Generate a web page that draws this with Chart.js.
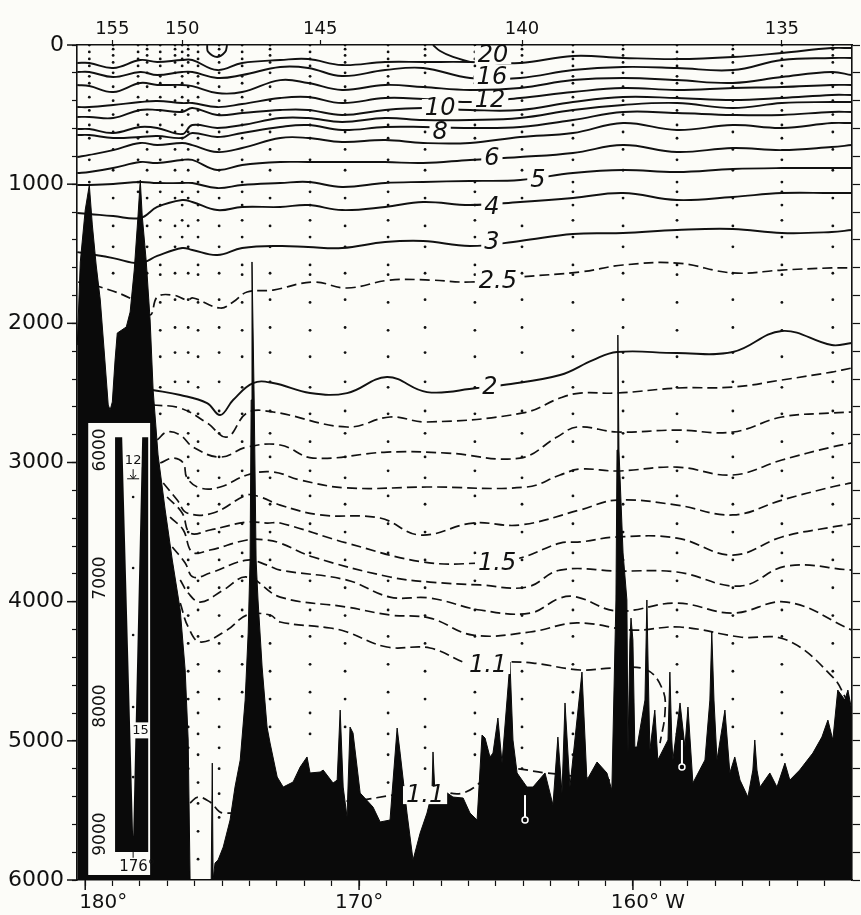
<!DOCTYPE html>
<html>
<head>
<meta charset="utf-8">
<script src="https://cdn.jsdelivr.net/npm/chart.js@4.4.0/dist/chart.umd.min.js"></script>
<style>
  html, body { margin: 0; padding: 0; background: #fcfcf8; }
  canvas { display: block; }
</style>
</head>
<body>
<canvas id="section" width="861" height="915"></canvas>
<script>
// longitude grid (deg, 180 -> 152 W) for the upper isotherms
var gridLon = [180.29, 179.85, 178.98, 177.99, 177.37, 176.46, 176.09, 175.18, 174.27, 172.88, 171.86, 170.62, 169.05, 167.66, 165.95, 164.12, 162.19, 160.36, 158.39, 156.35, 154.56, 152.74, 152.01];

// depth (m) of each upper isotherm on that grid
var t18 = [129,129,165,108,122,108,108,180,129,108,101,144,122,122,122,129,79,93,101,86,57,22,22];
var t16 = [194,194,230,194,216,194,194,237,216,158,165,223,180,165,237,237,180,158,165,180,108,93,93];
var t14 = [287,295,338,273,287,287,295,345,338,252,273,323,287,302,323,309,252,237,252,273,230,194,216];
var t12 = [446,446,431,410,402,417,417,446,424,381,374,417,381,388,410,381,338,309,323,309,302,287,287];
var t10 = [517,517,525,467,467,481,453,503,489,467,467,503,467,453,467,467,410,374,381,395,381,359,359];
var t9  = [604,604,632,589,596,640,575,596,575,525,525,553,525,539,539,525,467,431,417,453,417,410,410];
var t8  = [647,647,668,661,654,668,632,661,632,589,575,611,589,589,596,589,539,481,489,503,503,481,481];
var t7  = [805,790,755,704,719,704,719,769,740,668,668,697,683,704,704,661,632,561,611,575,596,561,561];
var t6  = [920,913,884,841,848,826,826,898,862,841,841,841,841,848,826,805,776,719,769,740,755,733,719];
var t5  = [1006,1006,999,984,992,992,992,1028,1006,992,984,1020,992,984,977,970,920,898,913,891,884,884,884];
var t4  = [1207,1214,1229,1243,1164,1114,1128,1186,1164,1164,1150,1186,1164,1128,1150,1128,1099,1064,1114,1092,1064,1064,1064];
var t3  = [1488,1502,1531,1567,1516,1459,1473,1509,1459,1444,1452,1459,1416,1408,1444,1408,1358,1351,1329,1322,1351,1344,1329];

// 20 deg outcrop and the small surface loop near 175
var loop20Lon = [167.30, 167.04, 166.57, 165.95];
var loop20Depth = [0, 43, 86, 122];
var loopSLon = [175.55, 175.51, 175.18, 174.89, 174.82];
var loopSDepth = [0, 50, 86, 50, 0];

// deep isotherms, each with its own longitudes
var d25Lon = [180.26,179.45,178.25,177.63,177.37,176.79,176.28,176.06,175.07,174.60,174.09,173.14,171.68,170.44,168.87,167.41,165.95,164.12,161.93,160.36,158.39,156.35,154.56,152.74,152.01];
var d25Depth = [1703,1739,1832,1940,1811,1797,1832,1818,1890,1847,1775,1761,1703,1746,1689,1689,1703,1667,1631,1581,1567,1638,1617,1602,1602];
var s2Lon = [177.55,176.53,175.55,175.07,174.60,173.87,173.14,171.79,170.44,168.98,167.52,165.69,164.74,162.66,161.46,160.58,158.39,156.35,154.56,152.74,152.01];
var s2Depth = [2479,2515,2573,2659,2551,2429,2429,2501,2501,2386,2494,2465,2443,2371,2264,2206,2213,2206,2055,2156,2141];
var d19Lon = [177.55,176.53,175.55,174.82,174.09,173.14,170.44,168.87,167.52,164.01,162.66,161.93,160.58,158.39,156.35,154.56,152.74,152.01];
var d19Depth = [2587,2609,2716,2817,2644,2637,2745,2673,2709,2644,2537,2501,2501,2465,2458,2407,2350,2321];
var d18Lon = [177.37,177.01,176.53,176.06,175.07,174.09,172.88,171.68,168.98,166.79,164.12,162.77,162.04,160.58,158.39,156.35,154.56,152.74,152.01];
var d18Depth = [2838,2781,2803,2889,2961,2889,2874,2968,2925,2932,2968,2817,2745,2781,2767,2781,2673,2644,2637];
var d17Lon = [177.26,176.79,176.42,176.28,175.80,175.07,174.09,173.14,172.15,170.44,167.52,163.87,162.66,161.93,160.58,158.39,156.35,154.56,152.74,152.01];
var d17Depth = [3004,2968,3004,3111,3183,3176,3090,3068,3126,3183,3176,3176,3090,3047,3061,3033,3090,2982,2889,2860];
var d16Lon = [177.15,176.64,176.28,175.33,174.09,173.61,172.88,171.42,169.23,167.77,165.84,164.12,161.93,160.58,158.39,156.35,154.56,152.74,152.01];
var d16Depth = [3147,3270,3363,3363,3234,3248,3306,3377,3399,3521,3435,3449,3341,3270,3306,3377,3270,3176,3147];
var d15Lon = [177.01,176.46,176.17,175.44,174.09,173.36,172.88,170.44,167.66,165.58,164.12,162.66,161.93,160.58,158.39,156.35,154.56,152.74,152.01];
var d15Depth = [3248,3363,3507,3485,3428,3435,3435,3579,3715,3722,3686,3579,3571,3535,3543,3665,3535,3464,3442];
var d14Lon = [176.90,176.42,176.09,175.44,174.09,173.36,172.88,171.68,168.87,167.41,165.58,163.87,162.66,160.58,158.39,156.09,154.38,152.01];
var d14Depth = [3392,3485,3643,3629,3557,3557,3579,3679,3823,3859,3880,3895,3773,3780,3787,3888,3744,3773];
var d13Lon = [176.82,176.35,176.06,175.44,174.09,173.36,172.88,170.44,168.87,167.41,165.58,163.76,162.66,162.04,160.58,158.39,156.35,154.38,152.01];
var d13Depth = [3607,3722,3823,3794,3701,3737,3773,3845,3967,3974,4060,4082,3974,3967,4067,4010,4082,4003,4204];
var d12Lon = [176.53,176.24,175.80,174.96,174.09,172.88,170.44,168.87,167.41,165.84,163.76,162.04,160.00,158.28,156.09,154.38,152.70,152.19];
var d12Depth = [3844,3938,4003,3917,3823,3967,4039,4096,4118,4240,4218,4153,4204,4182,4254,4276,4542,4707];
var d11aLon = [176.53,176.24,175.80,174.82,174.09,173.25,172.88,171.06,170.44,168.98,167.41,165.84,164.85,163.65,161.93,160.73,159.49,158.91,158.83,159.01];
var d11aDepth = [4010,4182,4290,4204,4096,4096,4146,4189,4218,4326,4333,4455,4434,4441,4491,4477,4491,4635,4800,5016];
var d11bLon = [176.17,175.88,175.44,174.96,172.52,169.96,168.76,167.30,166.20,164.85,163.14,161.93,160.84];
var d11bDepth = [5447,5404,5440,5519,5461,5425,5390,5354,5375,5210,5231,5260,5282];

// bottom profile
var bathyLon = [180.29,180.18,180.00,179.85,179.74,179.60,179.45,179.31,179.16,179.09,179.01,178.91,178.83,178.50,178.36,178.21,178.07,177.99,177.92,177.77,177.63,177.52,177.34,177.08,176.82,176.53,176.35,176.24,176.17,175.40,175.36,175.33,175.26,175.15,174.96,174.71,174.53,174.34,174.16,174.05,173.98,173.94,173.91,173.83,173.76,173.69,173.54,173.36,173.25,172.99,172.77,172.41,172.15,171.90,171.79,171.42,171.31,170.95,170.80,170.69,170.58,170.44,170.33,170.22,169.96,169.49,169.23,168.87,168.61,168.50,168.25,168.03,167.77,167.52,167.34,167.30,167.23,166.93,166.57,166.20,165.95,165.69,165.51,165.40,165.22,165.11,164.93,164.78,164.56,164.49,164.38,164.23,163.87,163.65,163.21,162.92,162.74,162.59,162.48,162.30,161.86,161.68,161.31,160.95,160.77,160.62,160.58,160.55,160.51,160.36,160.22,160.18,160.11,160.07,160.00,159.93,159.85,159.56,159.49,159.42,159.38,159.20,159.09,158.72,158.65,158.58,158.54,158.28,158.10,157.99,157.81,157.37,157.19,157.12,157.04,156.93,156.64,156.46,156.28,156.09,155.80,155.62,155.55,155.47,155.36,155.00,154.74,154.45,154.27,153.91,153.43,153.10,152.88,152.70,152.52,152.26,152.15,152.01];
var bathyDepth = [2156,1559,1186,1006,1293,1581,1832,2192,2587,2623,2565,2264,2070,2026,1919,1617,1222,970,1222,1559,1976,2479,2946,3341,3701,4060,4491,4994,6000,6000,5160,6000,5878,5857,5763,5569,5332,5138,4707,4225,3701,2551,1559,2551,3701,3988,4470,4901,5016,5260,5332,5296,5188,5116,5231,5224,5210,5303,5282,4779,5332,5548,4901,4944,5375,5476,5583,5569,4908,5088,5519,5857,5663,5519,5375,5080,5375,5354,5404,5411,5519,5569,4958,4980,5116,5088,4836,5160,4613,4434,4994,5231,5332,5332,5231,5461,4973,5375,4728,5332,4506,5282,5152,5231,5354,3988,2910,2084,2910,3650,3988,5088,4276,4118,4276,5045,5045,4707,3988,4707,5066,4779,5138,4994,4506,4994,5138,4728,5045,4757,5303,5138,4707,4218,4707,5138,4779,5231,5116,5282,5404,5210,4994,5210,5332,5231,5332,5160,5282,5210,5088,4973,4851,4994,4635,4707,4635,4779];

// stations and bottle depths
var stationLon = [179.85,178.98,178.07,177.74,177.26,176.72,176.46,176.24,175.88,175.11,174.27,173.25,171.79,170.51,168.94,167.59,165.77,164.05,162.19,160.36,158.39,156.35,154.56,152.70];
var stationMax = [1000,1700,1100,2000,2700,2600,1500,5300,5900,5650,4700,4900,5000,4950,5400,5300,5200,5350,5300,5000,4950,5000,5100,4600];
var stationCast = ['A','B','A','B','A','B','A','B','A','B','A','B','A','B','A','B','A','B','A','B','A','B','A','B'];
var castA = [0,50,100,150,225,275,375,470,575,670,825,985,1055,1150,1260,1380,1580,1650,1850,2050,2240,2460,2650,2850,3060,3240,3440,3650,3850,4060,4250,4450,4650,4800,4950,5100,5300,5450,5650,5850];
var castB = [0,30,75,125,200,300,400,500,625,750,900,1100,1300,1450,1640,1830,2030,2210,2420,2630,2790,2960,3110,3300,3500,3700,3900,4100,4300,4500,4700,4900,5050,5200,5380,5550,5750,5900];

// white sounding marks on the bottom
var soundLon = [163.94, 158.21];
var soundTop = [5390, 4994];
var soundBottom = [5569, 5188];

// contour labels
var labelText = ['20','16','12','10','8','6','5','4','3','2.5','2','1.5','1.1','1.1'];
var labelLon = [165.11,165.15,165.22,167.04,167.04,165.15,163.47,165.15,165.15,164.93,165.22,164.96,165.29,167.59];
var labelDepth = [72,230,395,453,625,812,970,1164,1416,1696,2458,3722,4455,5390];

// axes
var topStationLon = [179.01, 176.46, 171.42, 164.05, 154.56];
var topStationLabel = ['155', '150', '145', '140', '135'];
var lonMinor = [180,179,178,177,176,175,174,173,172,171,170,169,168,167,166,165,164,163,162,161,160,159,158,157,156,155,154,153];
var lonLabelValues = [180, 170, 160];
var lonLabelText = ['180°', '170°', '160° W'];
var depthLabelValues = [0, 1000, 2000, 3000, 4000, 5000, 6000];

// trench inset (depths in the inset's own scale)
var insetTicks = [6000, 7000, 8000, 9000];
var insetWallLon = [178.91, 178.65, 178.25, 177.92, 177.70, 177.70, 178.91];
var insetWallDepth = [5900, 5900, 9020, 5900, 5900, 9140, 9140];
var insetDotDepth = [6367, 6922, 7445, 8008, 8555];

var bg = '#fcfcf8';
var ink = '#111111';

function pairs(lons, depths) {
  return lons.map(function (v, i) { return { x: v, y: depths[i] }; });
}

var dots = [];
stationLon.forEach(function (lon, i) {
  var cast = stationCast[i] === 'A' ? castA : castB;
  cast.forEach(function (d) {
    if (d <= stationMax[i]) dots.push({ x: lon, y: d });
  });
});

function iso(data, dashed) {
  return {
    data: data, showLine: true, pointRadius: 0, borderColor: ink,
    borderWidth: dashed ? 1.7 : 1.9, tension: 0.4, fill: false, order: 1,
    borderDash: dashed ? [10, 5] : []
  };
}

var datasets = [];
datasets.push({
  data: pairs(bathyLon, bathyDepth), showLine: true, pointRadius: 0,
  borderColor: '#0a0a0a', borderWidth: 1, tension: 0,
  backgroundColor: '#0a0a0a', fill: { value: 6000 }, order: 0
});
[t18, t16, t14, t12, t10, t9, t8, t7, t6, t5, t4, t3].forEach(function (t) {
  datasets.push(iso(pairs(gridLon, t), false));
});
datasets.push(iso(pairs(loop20Lon, loop20Depth), false));
datasets.push(iso(pairs(loopSLon, loopSDepth), false));
datasets.push(iso(pairs(d25Lon, d25Depth), true));
datasets.push(iso(pairs(s2Lon, s2Depth), false));
[[d19Lon, d19Depth], [d18Lon, d18Depth], [d17Lon, d17Depth], [d16Lon, d16Depth],
 [d15Lon, d15Depth], [d14Lon, d14Depth], [d13Lon, d13Depth], [d12Lon, d12Depth],
 [d11aLon, d11aDepth], [d11bLon, d11bDepth]].forEach(function (p) {
  datasets.push(iso(pairs(p[0], p[1]), true));
});
datasets.push({
  data: dots, pointRadius: 1.4, pointBackgroundColor: ink, pointBorderWidth: 0,
  showLine: false, order: 2
});

var paper = {
  id: 'paper',
  beforeDraw: function (chart) {
    var c = chart.ctx;
    c.save();
    c.fillStyle = bg;
    c.fillRect(0, 0, chart.width, chart.height);
    c.restore();
  }
};

var extras = {
  id: 'extras',
  afterDatasetsDraw: function (chart) {
    var c = chart.ctx, xs = chart.scales.x, ys = chart.scales.y;
    var px = function (v) { return xs.getPixelForValue(v); };
    var py = function (v) { return ys.getPixelForValue(v); };
    var iy = function (d) { return py(2910 + (d - 6000) * 0.92); };
    c.save();

    // soundings
    soundLon.forEach(function (lon, i) {
      c.strokeStyle = '#fff';
      c.lineWidth = 2;
      c.beginPath();
      c.moveTo(px(lon), py(soundTop[i]));
      c.lineTo(px(lon), py(soundBottom[i]) - 3);
      c.stroke();
      c.lineWidth = 1.5;
      c.beginPath();
      c.arc(px(lon), py(soundBottom[i]), 3, 0, Math.PI * 2);
      c.stroke();
    });

    // inset frame
    c.fillStyle = bg;
    c.fillRect(px(179.89), py(2716), px(177.63) - px(179.89), py(5964) - py(2716));
    c.fillStyle = '#0a0a0a';
    c.beginPath();
    insetWallLon.forEach(function (lon, i) {
      var X = px(lon), Y = iy(insetWallDepth[i]);
      if (i === 0) c.moveTo(X, Y); else c.lineTo(X, Y);
    });
    c.closePath();
    c.fill();
    c.fillStyle = ink;
    insetDotDepth.forEach(function (d) {
      c.beginPath();
      c.arc(px(178.25), iy(d), 1.3, 0, Math.PI * 2);
      c.fill();
    });
    c.font = '17px "DejaVu Sans"';
    c.textAlign = 'center';
    c.textBaseline = 'middle';
    insetTicks.forEach(function (d) {
      c.save();
      c.translate(px(179.45), iy(d));
      c.rotate(-Math.PI / 2);
      c.fillText(String(d), 0, 0);
      c.restore();
    });
    c.font = '13px "DejaVu Sans"';
    c.fillStyle = bg;
    c.fillRect(px(178.25) - 8, iy(6080) - 7, 16, 14);
    c.fillStyle = ink;
    c.fillText('12', px(178.25), iy(6080));
    c.strokeStyle = ink;
    c.lineWidth = 1;
    c.beginPath();
    c.moveTo(px(178.25), iy(6150));
    c.lineTo(px(178.25), iy(6225));
    c.moveTo(px(178.25) - 3, iy(6195));
    c.lineTo(px(178.25), iy(6225));
    c.lineTo(px(178.25) + 3, iy(6195));
    c.moveTo(px(178.25) - 6, iy(6225));
    c.lineTo(px(178.25) + 6, iy(6225));
    c.stroke();
    c.fillStyle = bg;
    c.fillRect(px(177.98) - 9, iy(8190) - 8, 18, 16);
    c.fillStyle = ink;
    c.fillText('15', px(177.98), iy(8190));
    c.font = '15px "DejaVu Sans"';
    c.fillText('176°', px(178.1), iy(9255));
    c.beginPath();
    c.moveTo(px(178.25), iy(9140));
    c.lineTo(px(178.25), iy(9185));
    c.stroke();

    // contour labels
    c.font = 'italic 24px "DejaVu Sans"';
    labelText.forEach(function (t, i) {
      var X = px(labelLon[i]), Y = py(labelDepth[i]);
      var w = c.measureText(t).width + 6;
      c.fillStyle = bg;
      c.fillRect(X - w / 2, Y - 9, w, 18);
      c.fillStyle = ink;
      c.fillText(t, X, Y + 1);
    });
    c.restore();
  },
  afterDraw: function (chart) {
    var c = chart.ctx, xs = chart.scales.x, ys = chart.scales.y;
    var area = chart.chartArea;
    var offs = [18, 0, 15];
    c.save();
    c.fillStyle = ink;
    c.strokeStyle = ink;
    c.lineWidth = 1.5;
    // longer ticks at the labelled depths
    depthLabelValues.forEach(function (v) {
      var Y = ys.getPixelForValue(v);
      c.beginPath();
      c.moveTo(area.left - 10, Y);
      c.lineTo(area.left, Y);
      c.stroke();
    });
    c.font = '20px "DejaVu Sans"';
    c.textAlign = 'center';
    c.textBaseline = 'middle';
    lonLabelValues.forEach(function (v, i) {
      var X = xs.getPixelForValue(v);
      c.beginPath();
      c.moveTo(X, area.bottom);
      c.lineTo(X, area.bottom + 10);
      c.stroke();
      c.fillText(lonLabelText[i], X + offs[i], 903);
    });
    c.restore();
  }
};

new Chart(document.getElementById('section'), {
  type: 'scatter',
  data: { datasets: datasets },
  options: {
    responsive: false,
    animation: false,
    devicePixelRatio: 1,
    layout: { padding: 0, autoPadding: false },
    plugins: { legend: { display: false }, tooltip: { enabled: false } },
    scales: {
      x: {
        type: 'linear', position: 'bottom', min: 152.0, max: 180.3, reverse: true,
        afterBuildTicks: function (ax) { ax.ticks = lonMinor.map(function (v) { return { value: v }; }); },
        ticks: { callback: function () { return ''; }, autoSkip: false, maxRotation: 0, padding: 0 },
        grid: { drawOnChartArea: false, color: ink, tickLength: 6, tickWidth: 1.2 },
        border: { color: ink, width: 1.6 },
        afterFit: function (ax) { ax.height = 35; }
      },
      xTop: {
        type: 'linear', position: 'top', min: 152.0, max: 180.3, reverse: true,
        afterBuildTicks: function (ax) { ax.ticks = topStationLon.map(function (v) { return { value: v }; }); },
        ticks: {
          callback: function (v, i) { return topStationLabel[i]; },
          autoSkip: false, maxRotation: 0, padding: 0, color: ink,
          font: { family: 'DejaVu Sans', size: 18 }
        },
        grid: { drawOnChartArea: false, color: ink, tickLength: 5, tickWidth: 1.2 },
        border: { color: ink, width: 1.6 },
        afterFit: function (ax) { ax.height = 45; }
      },
      y: {
        type: 'linear', position: 'left', min: 0, max: 6000, reverse: true,
        ticks: {
          stepSize: 200, autoSkip: false, padding: 8, color: ink,
          callback: function (v) { return v % 1000 === 0 ? String(v) : ''; },
          font: { family: 'DejaVu Sans', size: 22 }
        },
        grid: { drawOnChartArea: false, color: ink, tickLength: 5, tickWidth: 1.2 },
        border: { color: ink, width: 1.6 },
        afterFit: function (ax) { ax.width = 77; }
      },
      yRight: {
        type: 'linear', position: 'right', min: 0, max: 6000, reverse: true,
        ticks: { stepSize: 200, autoSkip: false, padding: 0, callback: function () { return ''; } },
        grid: { drawOnChartArea: false, color: ink, tickLength: 8, tickWidth: 1.2 },
        border: { color: ink, width: 1.6 },
        afterFit: function (ax) { ax.width = 9; }
      }
    }
  },
  plugins: [paper, extras]
});
</script>
</body>
</html>
